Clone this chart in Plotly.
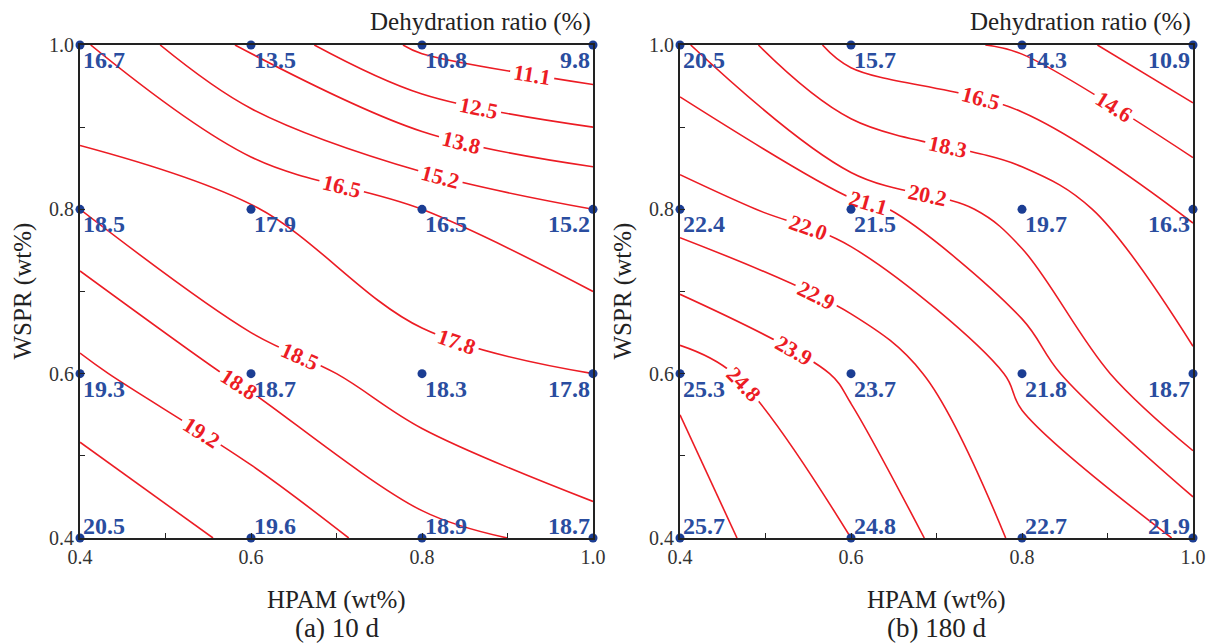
import plotly.graph_objects as go

# ---------------- data ----------------
hpam = [0.4, 0.6, 0.8, 1.0]          # x grid (wt%)
wspr = [0.4, 0.6, 0.8, 1.0]          # y grid (wt%)

# 10 d dehydration ratio, one list per WSPR row (ascending WSPR)
d10_w04 = [20.5, 19.6, 18.9, 18.7]
d10_w06 = [19.3, 18.7, 18.3, 17.8]
d10_w08 = [18.5, 17.9, 16.5, 15.2]
d10_w10 = [16.7, 13.5, 10.8, 9.8]

# 180 d dehydration ratio
d180_w04 = [25.7, 24.8, 22.7, 21.9]
d180_w06 = [25.3, 23.7, 21.8, 18.7]
d180_w08 = [22.4, 21.5, 19.7, 16.3]
d180_w10 = [20.5, 15.7, 14.3, 10.9]

levels_10d = [11.1, 12.5, 13.8, 15.2, 16.5, 17.8, 18.5, 18.8, 19.2, 19.8]
levels_180d = [12.8, 14.6, 16.5, 18.3, 20.2, 21.1, 22.0, 22.9, 23.9, 24.8, 25.4]

tick_vals = [0.4, 0.6, 0.8, 1.0]
tick_text = ["0.4", "0.6", "0.8", "1.0"]

z10 = [d10_w04, d10_w06, d10_w08, d10_w10]
z180 = [d180_w04, d180_w06, d180_w08, d180_w10]

# ---------------- style ----------------
SERIF = "Liberation Serif"
RED = "#ec1c24"
BLUE_TXT = "#2a4d9f"
BLUE_PT = "#1b3d93"

fig = go.Figure()

panels = [
    (z10, levels_10d, "x", "y", "(a) 10 d"),
    (z180, levels_180d, "x2", "y2", "(b) 180 d"),
]

annotations = []

for z, levels, xa, ya, caption in panels:
    for lv in levels:
        fig.add_trace(go.Contour(
            x=hpam, y=wspr, z=z,
            xaxis=xa, yaxis=ya,
            autocontour=False,
            contours=dict(start=lv, end=lv, size=1, coloring="none",
                          showlabels=True,
                          labelfont=dict(family=SERIF, size=22, color=RED, weight=700),
                          labelformat=".1f"),
            line=dict(color=RED, width=1.6, smoothing=1.0),
            showscale=False, hoverinfo="skip",
        ))
    # data points
    xs, ys = [], []
    for j, yv in enumerate(wspr):
        for i, xv in enumerate(hpam):
            xs.append(xv)
            ys.append(yv)
            right_col = (i == len(hpam) - 1)
            bottom_row = (j == 0)
            annotations.append(dict(
                x=xv, y=yv, xref=xa, yref=ya,
                text="<b>%.1f</b>" % z[j][i], showarrow=False,
                font=dict(family=SERIF, size=24, color=BLUE_TXT),
                xanchor="right" if right_col else "left",
                yanchor="bottom" if bottom_row else "top",
                xshift=-1 if right_col else 1,
                yshift=-3 if bottom_row else 0,
            ))
    fig.add_trace(go.Scatter(
        x=xs, y=ys, xaxis=xa, yaxis=ya, mode="markers",
        marker=dict(color=BLUE_PT, size=9),
        cliponaxis=False, hoverinfo="skip", showlegend=False,
    ))

axis_common = dict(
    range=[0.4, 1.0], tickvals=tick_vals, ticktext=tick_text,
    ticks="inside", ticklen=5, tickwidth=1.2, tickcolor="#222",
    showline=True, linecolor="#222", linewidth=2, mirror=True,
    showgrid=False, zeroline=False, automargin=False,
    tickfont=dict(family=SERIF, size=20, color="#333"),
    minor=dict(ticks="inside", ticklen=5, tickwidth=1.2, tickcolor="#222",
               dtick=0.1, showgrid=False),
)

xd1 = [80 / 1206, 593 / 1206]
xd2 = [680 / 1206, 1193 / 1206]
yd = [1 - 538 / 644, 1 - 45 / 644]

fig.update_layout(
    template="none",
    width=1206, height=644,
    margin=dict(l=0, r=0, t=0, b=0),
    paper_bgcolor="white", plot_bgcolor="white",
    showlegend=False,
    xaxis=dict(domain=xd1, anchor="y", **axis_common),
    yaxis=dict(domain=yd, anchor="x", **axis_common),
    xaxis2=dict(domain=xd2, anchor="y2", **axis_common),
    yaxis2=dict(domain=yd, anchor="x2", **axis_common),
)

title_font = dict(family=SERIF, size=25, color="#222")
for (xd, cap) in [(xd1, "(a) 10 d"), (xd2, "(b) 180 d")]:
    cx = (xd[0] + xd[1]) / 2
    annotations.append(dict(x=cx, y=1 - 600 / 644, xref="paper", yref="paper",
                            text="HPAM (wt%)", showarrow=False, font=title_font,
                            xanchor="center", yanchor="middle"))
    annotations.append(dict(x=cx, y=1 - 628 / 644, xref="paper", yref="paper",
                            text=cap, showarrow=False, font=dict(family=SERIF, size=27, color="#222"),
                            xanchor="center", yanchor="middle"))
    annotations.append(dict(x=xd[1], y=1 - 22 / 644, xref="paper", yref="paper",
                            text="Dehydration ratio (%)", showarrow=False, font=title_font,
                            xanchor="right", yanchor="middle"))
    annotations.append(dict(x=(xd[0] * 1206 - 58) / 1206, y=(yd[0] + yd[1]) / 2,
                            xref="paper", yref="paper",
                            text="WSPR (wt%)", showarrow=False, font=title_font,
                            textangle=-90, xanchor="center", yanchor="middle"))

fig.update_layout(annotations=annotations)

fig.write_html("out.html")
